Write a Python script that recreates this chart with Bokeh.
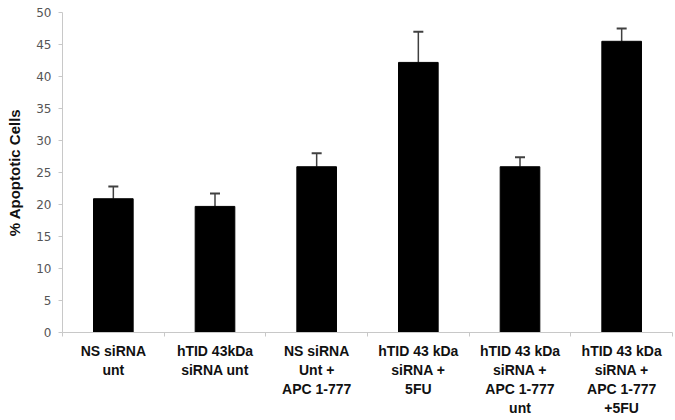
from bokeh.plotting import figure
from bokeh.models import ColumnDataSource, Whisker, FixedTicker, Range1d, TeeHead
from bokeh.embed import file_html
from bokeh.resources import INLINE

categories = ["NS siRNA\nunt", "hTID 43kDa\nsiRNA unt", "NS siRNA\nUnt +\nAPC 1-777",
              "hTID 43 kDa\nsiRNA +\n5FU", "hTID 43 kDa\nsiRNA +\nAPC 1-777\nunt",
              "hTID 43 kDa\nsiRNA +\nAPC 1-777\n+5FU"]
values = [20.9, 19.7, 25.9, 42.2, 25.9, 45.5]
errors = [1.9, 2.0, 2.1, 4.8, 1.5, 2.0]
y_ticks = [0, 5, 10, 15, 20, 25, 30, 35, 40, 45, 50]

xs = [i + 0.5 for i in range(len(categories))]
upper = [v + e for v, e in zip(values, errors)]
src = ColumnDataSource(dict(x=xs, top=values, upper=upper))

p = figure(width=673, height=419, output_backend="svg", toolbar_location=None,
           x_range=Range1d(0, len(categories)), y_range=Range1d(0, 50),
           min_border_left=62, min_border_right=1, min_border_top=12, min_border_bottom=86)
p.outline_line_color = None
p.grid.grid_line_color = None
p.background_fill_color = "white"

p.vbar(x="x", top="top", width=0.39, source=src, fill_color="black", line_color="black")

w = Whisker(base="x", lower="top", upper="upper", source=src, line_color="#404040", line_width=1.5,
            upper_head=TeeHead(size=10, line_color="#404040", line_width=2), lower_head=None)
p.add_layout(w)

p.xaxis.ticker = FixedTicker(ticks=xs, minor_ticks=list(range(len(categories) + 1)))
p.xaxis.major_label_overrides = {x: c for x, c in zip(xs, categories)}
p.xaxis.major_tick_out = 0
p.xaxis.major_tick_in = 0
p.xaxis.minor_tick_out = 4
p.xaxis.minor_tick_in = 0
p.xaxis.minor_tick_line_color = "#c8c8c8"
p.xaxis.axis_line_color = "#c8c8c8"
p.xaxis.major_label_text_font = "Liberation Sans"
p.xaxis.major_label_text_font_style = "bold"
p.xaxis.major_label_text_font_size = "14px"
p.xaxis.major_label_text_color = "#111111"
p.xaxis.major_label_standoff = 6

p.yaxis.ticker = FixedTicker(ticks=y_ticks, minor_ticks=[])
p.yaxis.axis_line_color = "#c8c8c8"
p.yaxis.major_tick_line_color = "#c8c8c8"
p.yaxis.major_tick_out = 4
p.yaxis.major_tick_in = 0
p.yaxis.minor_tick_line_color = None
p.yaxis.major_label_text_font = "DejaVu Sans"
p.yaxis.major_label_text_font_size = "12px"
p.yaxis.major_label_text_color = "#555555"
p.yaxis.major_label_standoff = 7
p.yaxis.axis_label = "% Apoptotic Cells"
p.yaxis.axis_label_text_font = "Liberation Sans"
p.yaxis.axis_label_text_font_style = "bold"
p.yaxis.axis_label_text_font_size = "15px"
p.yaxis.axis_label_text_color = "#111111"
p.yaxis.axis_label_standoff = 10

open("out.html", "w").write(file_html(p, INLINE))
